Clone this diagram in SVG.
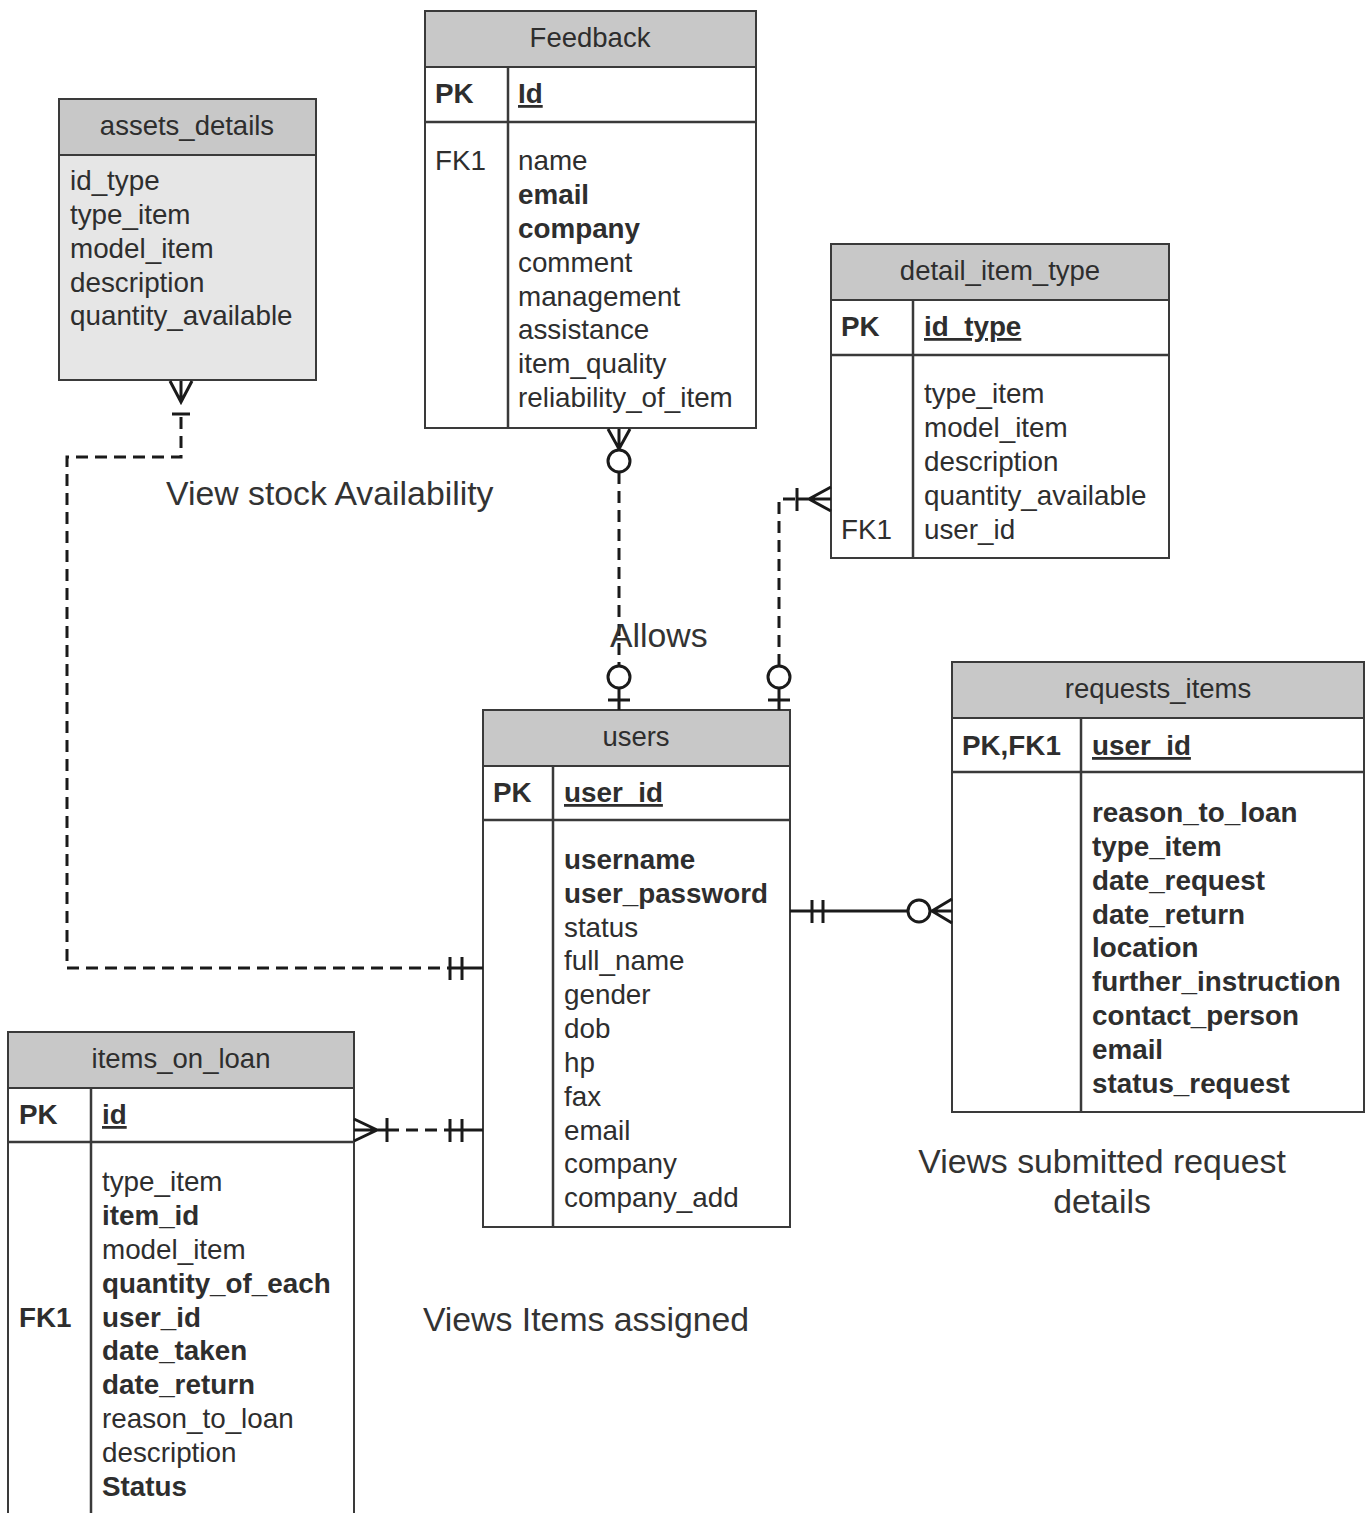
<svg xmlns="http://www.w3.org/2000/svg" width="1372" height="1513" viewBox="0 0 1372 1513">
  <style>
    .box { fill: #ffffff; stroke: #3a3a3a; stroke-width: 2; }
    .hdr { fill: #c8c8c8; stroke: #3a3a3a; stroke-width: 2; }
    .sep { stroke: #3a3a3a; stroke-width: 2.5; fill: none; }
    text { font-family: "Liberation Sans", Arial, sans-serif; fill: #2e2e2e; }
    .t { font-size: 27.5px; text-anchor: middle; }
    .f { font-size: 27.8px; }
    .b { font-weight: bold; }
    .u { text-decoration: underline; }
    .lbl { font-size: 33.8px; fill: #333; }
    .conn { stroke: #1a1a1a; stroke-width: 3; fill: none; }
    .dash { stroke-dasharray: 12 7; }
    .ring { stroke: #1a1a1a; stroke-width: 3; fill: #ffffff; }
  </style>

  <rect x="0" y="0" width="1372" height="1513" fill="#ffffff"/>

  <!-- Feedback -->
  <g id="feedback">
    <rect class="box" x="425" y="11" width="331" height="417"/>
    <rect class="hdr" x="425" y="11" width="331" height="56"/>
    <line class="sep" x1="425" y1="122" x2="756" y2="122"/>
    <line class="sep" x1="508" y1="67" x2="508" y2="428"/>
    <text class="t" x="590" y="47">Feedback</text>
    <text class="f b" x="435" y="103">PK</text>
    <text class="f b u" x="518" y="103">Id</text>
    <text class="f" x="435" y="170">FK1</text>
    <text class="f" x="518" y="170">name</text>
    <text class="f b" x="518" y="204">email</text>
    <text class="f b" x="518" y="238">company</text>
    <text class="f" x="518" y="272">comment</text>
    <text class="f" x="518" y="306">management</text>
    <text class="f" x="518" y="339">assistance</text>
    <text class="f" x="518" y="373">item_quality</text>
    <text class="f" x="518" y="407">reliability_of_item</text>
  </g>

  <!-- assets_details -->
  <g id="assets_details">
    <rect class="box" x="59" y="99" width="257" height="281" style="fill:#e6e6e6"/>
    <rect class="hdr" x="59" y="99" width="257" height="56"/>
    <text class="t" x="187" y="135">assets_details</text>
    <text class="f" x="70" y="190">id_type</text>
    <text class="f" x="70" y="224">type_item</text>
    <text class="f" x="70" y="258">model_item</text>
    <text class="f" x="70" y="292">description</text>
    <text class="f" x="70" y="325">quantity_available</text>
  </g>

  <!-- detail_item_type -->
  <g id="detail_item_type">
    <rect class="box" x="831" y="244" width="338" height="314"/>
    <rect class="hdr" x="831" y="244" width="338" height="56"/>
    <line class="sep" x1="831" y1="355" x2="1169" y2="355"/>
    <line class="sep" x1="913" y1="300" x2="913" y2="558"/>
    <text class="t" x="1000" y="280">detail_item_type</text>
    <text class="f b" x="841" y="336">PK</text>
    <text class="f b u" x="924" y="336">id_type</text>
    <text class="f" x="924" y="403">type_item</text>
    <text class="f" x="924" y="437">model_item</text>
    <text class="f" x="924" y="471">description</text>
    <text class="f" x="924" y="505">quantity_available</text>
    <text class="f" x="841" y="539">FK1</text>
    <text class="f" x="924" y="539">user_id</text>
  </g>

  <!-- users -->
  <g id="users">
    <rect class="box" x="483" y="710" width="307" height="517"/>
    <rect class="hdr" x="483" y="710" width="307" height="56"/>
    <line class="sep" x1="483" y1="820" x2="790" y2="820"/>
    <line class="sep" x1="553" y1="766" x2="553" y2="1227"/>
    <text class="t" x="636" y="746">users</text>
    <text class="f b" x="493" y="802">PK</text>
    <text class="f b u" x="564" y="802">user_id</text>
    <text class="f b" x="564" y="869">username</text>
    <text class="f b" x="564" y="903">user_password</text>
    <text class="f" x="564" y="937">status</text>
    <text class="f" x="564" y="970">full_name</text>
    <text class="f" x="564" y="1004">gender</text>
    <text class="f" x="564" y="1038">dob</text>
    <text class="f" x="564" y="1072">hp</text>
    <text class="f" x="564" y="1106">fax</text>
    <text class="f" x="564" y="1140">email</text>
    <text class="f" x="564" y="1173">company</text>
    <text class="f" x="564" y="1207">company_add</text>
  </g>

  <!-- requests_items -->
  <g id="requests_items">
    <rect class="box" x="952" y="662" width="412" height="450"/>
    <rect class="hdr" x="952" y="662" width="412" height="56"/>
    <line class="sep" x1="952" y1="772" x2="1364" y2="772"/>
    <line class="sep" x1="1081" y1="718" x2="1081" y2="1112"/>
    <text class="t" x="1158" y="698">requests_items</text>
    <text class="f b" x="962" y="755">PK,FK1</text>
    <text class="f b u" x="1092" y="755">user_id</text>
    <text class="f b" x="1092" y="822">reason_to_loan</text>
    <text class="f b" x="1092" y="856">type_item</text>
    <text class="f b" x="1092" y="890">date_request</text>
    <text class="f b" x="1092" y="924">date_return</text>
    <text class="f b" x="1092" y="957">location</text>
    <text class="f b" x="1092" y="991">further_instruction</text>
    <text class="f b" x="1092" y="1025">contact_person</text>
    <text class="f b" x="1092" y="1059">email</text>
    <text class="f b" x="1092" y="1093">status_request</text>
  </g>

  <!-- items_on_loan -->
  <g id="items_on_loan">
    <rect class="box" x="8" y="1032" width="346" height="500"/>
    <rect class="hdr" x="8" y="1032" width="346" height="56"/>
    <line class="sep" x1="8" y1="1142" x2="354" y2="1142"/>
    <line class="sep" x1="91" y1="1088" x2="91" y2="1532"/>
    <text class="t" x="181" y="1068">items_on_loan</text>
    <text class="f b" x="19" y="1124">PK</text>
    <text class="f b u" x="102" y="1124">id</text>
    <text class="f" x="102" y="1191">type_item</text>
    <text class="f b" x="102" y="1225">item_id</text>
    <text class="f" x="102" y="1259">model_item</text>
    <text class="f b" x="102" y="1293">quantity_of_each</text>
    <text class="f b" x="19" y="1327">FK1</text>
    <text class="f b" x="102" y="1327">user_id</text>
    <text class="f b" x="102" y="1360">date_taken</text>
    <text class="f b" x="102" y="1394">date_return</text>
    <text class="f" x="102" y="1428">reason_to_loan</text>
    <text class="f" x="102" y="1462">description</text>
    <text class="f b" x="102" y="1496">Status</text>
  </g>

  <!-- relationships -->
  <g id="connectors">
    <!-- assets_details to users -->
    <path class="conn dash" d="M181,417 V457 H67 V968 H449"/>
    <path class="conn" d="M170,381 L181,402 L192,381 M181,381 V402 M172,414 H190 M449,968 H483 M450,957 V980 M462,957 V980"/>

    <!-- Feedback to users -->
    <path class="conn dash" d="M619,472 V666"/>
    <path class="conn" d="M608,429 L619,449 L630,429 M619,429 V449 M619,688 V710 M608,700 H630"/>
    <circle class="ring" cx="619" cy="461" r="11"/>
    <circle class="ring" cx="619" cy="677" r="11"/>

    <!-- detail_item_type to users -->
    <path class="conn dash" d="M779,666 V499 H797"/>
    <path class="conn" d="M797,499 H831 M797,488 V511 M831,487 L809,499 L831,511 M779,688 V710 M768,700 H790"/>
    <circle class="ring" cx="779" cy="677" r="11"/>

    <!-- users to requests_items -->
    <path class="conn" d="M790,911 H908 M812,900 V923 M823,900 V923 M930,911 H952 M952,899 L932,911 L952,923"/>
    <circle class="ring" cx="919" cy="911" r="11"/>

    <!-- items_on_loan to users -->
    <path class="conn dash" d="M387,1130 H449"/>
    <path class="conn" d="M354,1130 H387 M354,1119 L377,1130 L354,1141 M387,1118 V1142 M449,1130 H483 M450,1119 V1142 M462,1119 V1142"/>
  </g>

  <!-- relationship names -->
  <text class="lbl" x="166" y="505">View stock Availability</text>
  <text class="lbl" x="610" y="647">Allows</text>
  <text class="lbl" x="1102" y="1173" text-anchor="middle">Views submitted request</text>
  <text class="lbl" x="1102" y="1213" text-anchor="middle">details</text>
  <text class="lbl" x="586" y="1331" text-anchor="middle">Views Items assigned</text>
</svg>
